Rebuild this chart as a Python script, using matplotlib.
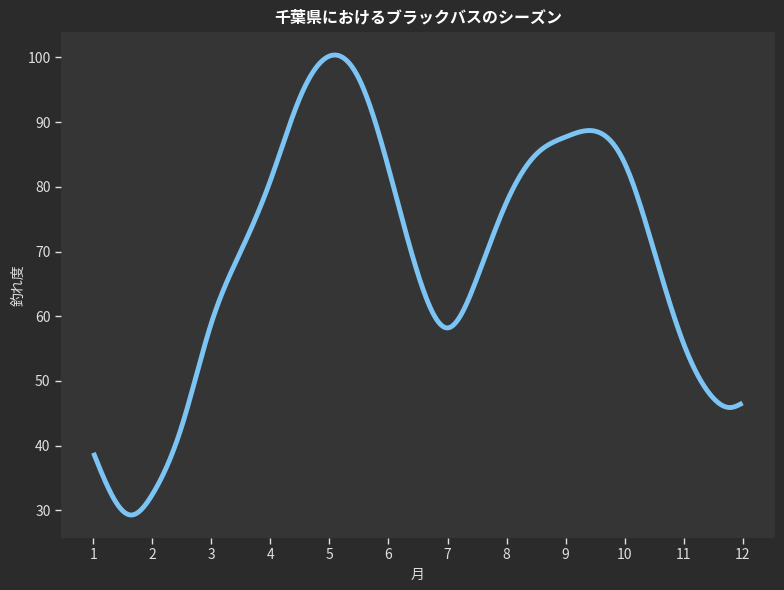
import matplotlib
matplotlib.use("Agg")
import matplotlib.pyplot as plt
import numpy as np

# 半月ごとの釣れ度 (グラフから読み取り、谷の位置も追加)
months = [1, 1.5, 1.65, 2, 2.5, 3, 3.5, 4, 4.5, 5, 5.5, 6, 6.5,
          7, 7.5, 8, 8.5, 9, 9.5, 10, 10.5, 11, 11.5, 11.8, 12]
score = [38.9, 29.9, 29.3, 32.5, 43.1, 59.0, 70.1, 81.0, 93.8, 100.2, 96.7, 82.9, 66.5,
         58.2, 65.9, 77.6, 85.0, 87.7, 88.6, 83.7, 70.1, 55.8, 47.4, 45.9, 46.6]
month_ticks = list(range(1, 13))

title = "千葉県におけるブラックバスのシーズン"
xlabel = "月"
ylabel = "釣れ度"


def natural_spline(x, y, xs):
	# 自然3次スプラインで滑らかな曲線にする
	x = np.asarray(x, float)
	y = np.asarray(y, float)
	n = len(x)
	h = np.diff(x)
	A = np.zeros((n, n))
	b = np.zeros(n)
	A[0, 0] = A[-1, -1] = 1
	for i in range(1, n - 1):
		A[i, i - 1] = h[i - 1]
		A[i, i] = 2 * (h[i - 1] + h[i])
		A[i, i + 1] = h[i]
		b[i] = 6 * ((y[i + 1] - y[i]) / h[i] - (y[i] - y[i - 1]) / h[i - 1])
	m = np.linalg.solve(A, b)
	idx = np.clip(np.searchsorted(x, xs) - 1, 0, n - 2)
	t = xs - x[idx]
	hi = h[idx]
	a = (m[idx + 1] - m[idx]) / (6 * hi)
	bb = m[idx] / 2
	c = (y[idx + 1] - y[idx]) / hi - hi * (2 * m[idx] + m[idx + 1]) / 6
	return y[idx] + c * t + bb * t ** 2 + a * t ** 3


plt.rcParams["font.family"] = ["Noto Sans CJK JP", "DejaVu Sans"]

fig = plt.figure(figsize=(7.84, 5.9), dpi=100, facecolor="#2b2b2b")
ax = fig.add_axes([61 / 784, 1 - 538 / 590, (775 - 61) / 784, (538 - 32) / 590])
ax.set_facecolor("#353535")

xs = np.linspace(months[0], months[-1], 600)
ax.plot(xs, natural_spline(months, score, xs), color="#7cc4f4", lw=3.5, solid_capstyle="butt")

ax.set_xticks(month_ticks)
ax.set_yticks(range(30, 101, 10))
for s in ax.spines.values():
	s.set_visible(False)
ax.tick_params(colors="#e0e0e0", labelsize=10, length=4, width=1)

ax.set_title(title, color="white", fontsize=11.5, fontweight="bold", pad=7)
ax.set_xlabel(xlabel, color="#dddddd", fontsize=10)
ax.set_ylabel(ylabel, color="#dddddd", fontsize=10, labelpad=1)

fig.savefig("out.png", dpi=100, facecolor=fig.get_facecolor())
